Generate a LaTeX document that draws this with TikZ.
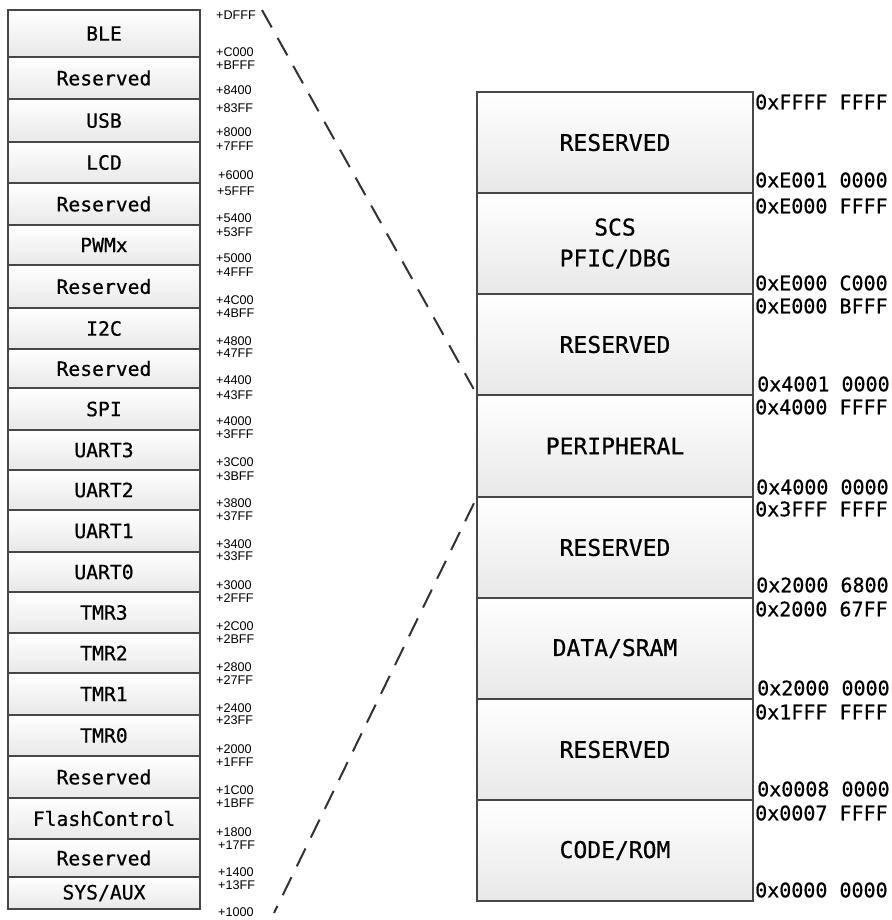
\documentclass[tikz,border=0pt]{standalone}
\usepackage{fontspec}
\newfontfamily\monofont[FakeBold=0.6]{DejaVu Sans Mono}
\newfontfamily\addrfont{Liberation Sans}
\begin{document}
\begin{tikzpicture}[x=1pt,y=-1pt,
  memcell/.style={draw=black!72, line width=1.6pt, top color=white, bottom color=black!9, inner sep=0pt, outer sep=0pt, align=center},
  lcell/.style={memcell, minimum width=192pt, font=\monofont\fontsize{19.7}{24}\selectfont},
  rcell/.style={memcell, minimum width=276pt, minimum height=101pt, font=\monofont\fontsize{23}{31}\selectfont},
  laddr/.style={anchor=west, inner sep=0pt, font=\addrfont\fontsize{12.6}{12.6}\selectfont},
  raddr/.style={anchor=west, inner sep=0pt, font=\monofont\fontsize{20}{20}\selectfont},
  zoomline/.style={draw=black!80, line width=2pt, dash pattern=on 20pt off 12pt}]
\useasboundingbox (0,0) rectangle (891,920);

% left column
\node[lcell, minimum height=47pt] (l1)  at (104,33.5)  {BLE};
\node[lcell, minimum height=42pt] (l2)  at (104,78)    {Reserved};
\node[lcell, minimum height=43pt] (l3)  at (104,120.5) {USB};
\node[lcell, minimum height=41pt] (l4)  at (104,162.5) {LCD};
\node[lcell, minimum height=42pt] (l5)  at (104,204)   {Reserved};
\node[lcell, minimum height=40pt] (l6)  at (104,245)   {PWMx};
\node[lcell, minimum height=43pt] (l7)  at (104,286.5) {Reserved};
\node[lcell, minimum height=41pt] (l8)  at (104,328.5) {I2C};
\node[lcell, minimum height=39pt] (l9)  at (104,368.5) {Reserved};
\node[lcell, minimum height=42pt] (l10) at (104,409)   {SPI};
\node[lcell, minimum height=40pt] (l11) at (104,450)   {UART3};
\node[lcell, minimum height=40pt] (l12) at (104,490)   {UART2};
\node[lcell, minimum height=42pt] (l13) at (104,531)   {UART1};
\node[lcell, minimum height=40pt] (l14) at (104,572)   {UART0};
\node[lcell, minimum height=41pt] (l15) at (104,612.5) {TMR3};
\node[lcell, minimum height=40pt] (l16) at (104,653)   {TMR2};
\node[lcell, minimum height=42pt] (l17) at (104,694)   {TMR1};
\node[lcell, minimum height=41pt] (l18) at (104,735.5) {TMR0};
\node[lcell, minimum height=42pt] (l19) at (104,777)   {Reserved};
\node[lcell, minimum height=41pt] (l20) at (104,818.5) {FlashControl};
\node[lcell, minimum height=38pt] (l21) at (104,858)   {Reserved};
\node[lcell, minimum height=32pt] (l22) at (104,893)   {SYS/AUX};

% left offsets
\node[laddr] (a1)  at (216,15)  {+DFFF};
\node[laddr] (a2)  at (216,52)  {+C000};
\node[laddr] (a3)  at (216,65)  {+BFFF};
\node[laddr] (a4)  at (216,90)  {+8400};
\node[laddr] (a5)  at (216,108) {+83FF};
\node[laddr] (a6)  at (216,132) {+8000};
\node[laddr] (a7)  at (216,146) {+7FFF};
\node[laddr] (a8)  at (218,175) {+6000};
\node[laddr] (a9)  at (217,191) {+5FFF};
\node[laddr] (a10) at (216,218) {+5400};
\node[laddr] (a11) at (216,232) {+53FF};
\node[laddr] (a12) at (216,258) {+5000};
\node[laddr] (a13) at (216,272) {+4FFF};
\node[laddr] (a14) at (216,300) {+4C00};
\node[laddr] (a15) at (216,313) {+4BFF};
\node[laddr] (a16) at (216,341) {+4800};
\node[laddr] (a17) at (216,353) {+47FF};
\node[laddr] (a18) at (216,380) {+4400};
\node[laddr] (a19) at (216,395) {+43FF};
\node[laddr] (a20) at (216,421) {+4000};
\node[laddr] (a21) at (216,434) {+3FFF};
\node[laddr] (a22) at (216,462) {+3C00};
\node[laddr] (a23) at (216,476) {+3BFF};
\node[laddr] (a24) at (216,503) {+3800};
\node[laddr] (a25) at (216,516) {+37FF};
\node[laddr] (a26) at (216,544) {+3400};
\node[laddr] (a27) at (216,556) {+33FF};
\node[laddr] (a28) at (216,585) {+3000};
\node[laddr] (a29) at (216,598) {+2FFF};
\node[laddr] (a30) at (216,626) {+2C00};
\node[laddr] (a31) at (216,639) {+2BFF};
\node[laddr] (a32) at (216,667) {+2800};
\node[laddr] (a33) at (216,680) {+27FF};
\node[laddr] (a34) at (216,708) {+2400};
\node[laddr] (a35) at (216,720) {+23FF};
\node[laddr] (a36) at (216,749) {+2000};
\node[laddr] (a37) at (216,762) {+1FFF};
\node[laddr] (a38) at (216,790) {+1C00};
\node[laddr] (a39) at (216,803) {+1BFF};
\node[laddr] (a40) at (216,832) {+1800};
\node[laddr] (a41) at (218,845) {+17FF};
\node[laddr] (a42) at (218,872) {+1400};
\node[laddr] (a43) at (218,885) {+13FF};
\node[laddr] (a44) at (218,912) {+1000};

% right column
\node[rcell] (r1) at (615,142.5) {RESERVED};
\node[rcell] (r2) at (615,243.5) {SCS\\PFIC/DBG};
\node[rcell] (r3) at (615,344.5) {RESERVED};
\node[rcell, minimum height=102pt] (r4) at (615,446) {PERIPHERAL};
\node[rcell] (r5) at (615,547.5) {RESERVED};
\node[rcell] (r6) at (615,648.5) {DATA/SRAM};
\node[rcell] (r7) at (615,749.5) {RESERVED};
\node[rcell] (r8) at (615,850.5) {CODE/ROM};

% right addresses
\node[raddr] (b1)  at (755,102) {0xFFFF FFFF};
\node[raddr] (b2)  at (755,180) {0xE001 0000};
\node[raddr] (b3)  at (755,206) {0xE000 FFFF};
\node[raddr] (b4)  at (755,283) {0xE000 C000};
\node[raddr] (b5)  at (755,306) {0xE000 BFFF};
\node[raddr] (b6)  at (757,384) {0x4001 0000};
\node[raddr] (b7)  at (755,407) {0x4000 FFFF};
\node[raddr] (b8)  at (756,487) {0x4000 0000};
\node[raddr] (b9)  at (755,509) {0x3FFF FFFF};
\node[raddr] (b10) at (756,585) {0x2000 6800};
\node[raddr] (b11) at (755,609) {0x2000 67FF};
\node[raddr] (b12) at (757,688) {0x2000 0000};
\node[raddr] (b13) at (755,712) {0x1FFF FFFF};
\node[raddr] (b14) at (757,789) {0x0008 0000};
\node[raddr] (b15) at (755,813) {0x0007 FFFF};
\node[raddr] (b16) at (755,890) {0x0000 0000};

% zoom lines
\coordinate (ztop) at (262,10);
\coordinate (zbot) at (274,913);
\draw[zoomline, shorten >=7pt] (ztop) -- (r4.north west);
\draw[zoomline, shorten <=7pt] (r4.south west) -- (zbot);
\end{tikzpicture}
\end{document}
